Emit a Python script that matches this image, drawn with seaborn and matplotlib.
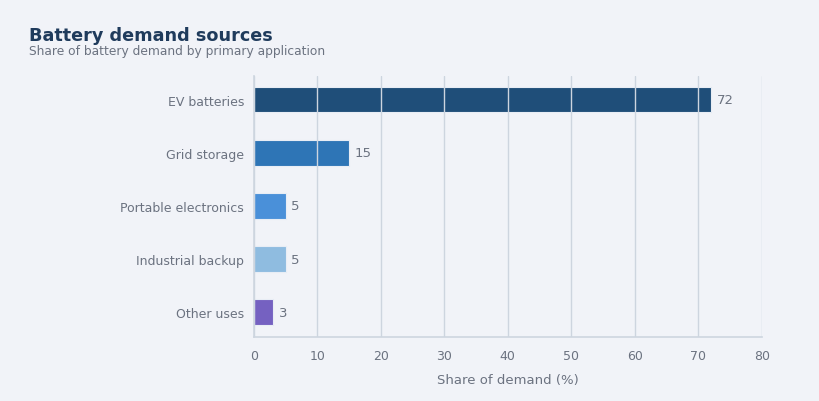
import pandas as pd
import seaborn as sns
import matplotlib.pyplot as plt

# data
applications = ["EV batteries", "Grid storage", "Portable electronics", "Industrial backup", "Other uses"]
shares = [72, 15, 5, 5, 3]
bar_colors = ["#1f4e79", "#2e75b6", "#4a90d9", "#8fbce0", "#7561c1"]
x_ticks = [0, 10, 20, 30, 40, 50, 60, 70, 80]

df = pd.DataFrame({"application": applications, "share": shares})

bg = "#f1f3f8"
text_gray = "#6b7280"
line_gray = "#cdd5df"

sns.set_theme(style="white")
plt.rcParams["font.family"] = ["DejaVu Sans"]

fig = plt.figure(figsize=(8.19, 4.02), dpi=100, facecolor=bg)
ax = fig.add_axes([0.310, 0.159, 0.620, 0.650])
ax.set_facecolor(bg)

sns.barplot(
    data=df,
    x="share",
    y="application",
    hue="application",
    palette=bar_colors,
    saturation=1,
    legend=False,
    width=0.48,
    edgecolor="#e8edf5",
    linewidth=0.8,
    ax=ax,
)

# value labels
for i, v in enumerate(shares):
    ax.text(v + 0.9, i, str(v), va="center", ha="left", fontsize=9.5, color=text_gray)

ax.set_xlim(0, 80)
ax.set_ylim(4.47, -0.45)
ax.set_xticks(x_ticks)

# grid drawn on top of bars
ax.set_axisbelow(False)
ax.xaxis.grid(True, color=line_gray, linewidth=1)
ax.yaxis.grid(False)

for side in ["top", "right"]:
    ax.spines[side].set_visible(False)
for side in ["left", "bottom"]:
    ax.spines[side].set_color(line_gray)
    ax.spines[side].set_linewidth(1.2)

ax.tick_params(axis="both", colors=text_gray, labelsize=9, length=3.5, width=1, direction="out")
ax.tick_params(axis="x", color="#7a8594", pad=5)
ax.tick_params(axis="y", color="#7a8594")

ax.set_ylabel("")
ax.set_xlabel("Share of demand (%)", fontsize=9.5, color=text_gray, labelpad=8)

# title and subtitle
fig.text(0.035, 0.897, "Battery demand sources", fontsize=12.7, fontweight="bold", color="#1f3b5c")
fig.text(0.035, 0.862, "Share of battery demand by primary application", fontsize=8.8, color=text_gray)

fig.savefig("out.png", dpi=100, facecolor=bg)
